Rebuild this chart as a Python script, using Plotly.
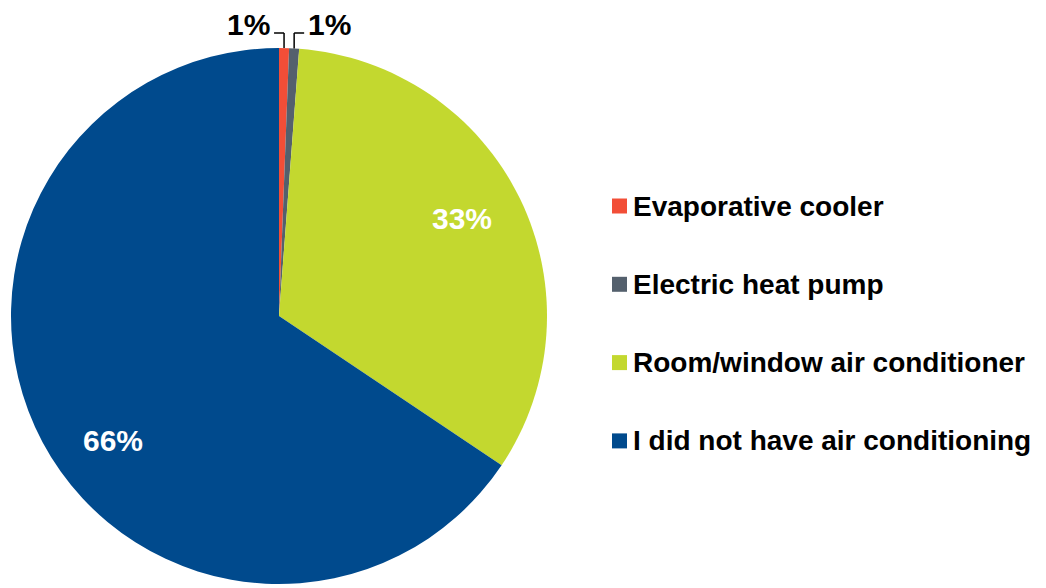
import math
import plotly.graph_objects as go

# Cooling used in the home (share of respondents, %)
categories = [
    "Evaporative cooler",
    "Electric heat pump",
    "Room/window air conditioner",
    "I did not have air conditioning",
]
shares = [0.6, 0.6, 33.2, 65.6]
colors = ["#F24E37", "#54606D", "#C3D82F", "#004A8D"]

W, H = 1046, 588
CX, CY, R = 279, 316, 268  # pie centre and radius in pixels
FONT = "Liberation Sans, Arial, sans-serif"
# angular nudge (degrees) and radial fraction for the in-slice labels
LABEL_NUDGE = [0, 0, -2.3, -8.8]
LABEL_RFRAC = 0.773


def px(x):
    return x / W


def py(y):
    return 1 - y / H


def pct(v):
    return f"{round(v):.0f}%"


total = sum(shares)

fig = go.Figure(
    go.Pie(
        labels=categories,
        values=shares,
        sort=False,
        direction="clockwise",
        rotation=0,
        marker=dict(colors=colors, line=dict(width=0)),
        textinfo="none",
        domain=dict(x=[px(CX - R), px(CX + R)], y=[py(CY + R), py(CY - R)]),
        hoverinfo="label+percent",
        showlegend=False,
    )
)

shapes = []
annotations = []

cum = 0.0
small_side = -1
for v, c, nudge in zip(shares, colors, LABEL_NUDGE):
    mid = (cum + v / 2) / total * 2 * math.pi
    cum += v
    if v / total >= 0.05:
        # large slices: white label inside the slice
        a = mid + math.radians(nudge)
        annotations.append(dict(
            xref="paper", yref="paper",
            x=px(CX + LABEL_RFRAC * R * math.sin(a)),
            y=py(CY - LABEL_RFRAC * R * math.cos(a)),
            xanchor="center", yanchor="middle", text=pct(v), showarrow=False,
            font=dict(family=FONT, size=30, color="white", weight="bold"),
        ))
        continue
    # small slices: elbow leader line from the rim up to a label above the pie
    x0 = CX + R * math.sin(mid)
    y0 = CY - R * math.cos(mid)
    y1 = CY - R - 15
    x1 = x0 + small_side * 10
    shapes.append(dict(type="line", xref="paper", yref="paper",
                       x0=px(x0), y0=py(y0), x1=px(x0), y1=py(y1),
                       line=dict(color="black", width=1.5)))
    shapes.append(dict(type="line", xref="paper", yref="paper",
                       x0=px(x0), y0=py(y1), x1=px(x1), y1=py(y1),
                       line=dict(color="black", width=1.5)))
    annotations.append(dict(
        xref="paper", yref="paper", x=px(x1 + small_side * 2), y=py(y1 - 8),
        xanchor="right" if small_side < 0 else "left", yanchor="middle",
        text=pct(v), showarrow=False,
        font=dict(family=FONT, size=30, color="black", weight="bold"),
    ))
    small_side = -small_side

# Legend: coloured squares with category names
LEG_X, LEG_Y0, LEG_STEP, SQ = 612, 206, 78.3, 15
for i, (name, c) in enumerate(zip(categories, colors)):
    yc = LEG_Y0 + i * LEG_STEP
    shapes.append(dict(type="rect", xref="paper", yref="paper",
                       x0=px(LEG_X), x1=px(LEG_X + SQ),
                       y0=py(yc - SQ / 2), y1=py(yc + SQ / 2),
                       fillcolor=c, line=dict(width=0)))
    annotations.append(dict(
        xref="paper", yref="paper", x=px(LEG_X + SQ + 4), y=py(yc),
        xanchor="left", yanchor="middle", text=name, showarrow=False,
        font=dict(family=FONT, size=28, color="black", weight="bold"),
    ))

fig.update_layout(
    width=W,
    height=H,
    margin=dict(l=0, r=0, t=0, b=0),
    paper_bgcolor="white",
    plot_bgcolor="white",
    shapes=shapes,
    annotations=annotations,
)

fig.write_html("out.html")
